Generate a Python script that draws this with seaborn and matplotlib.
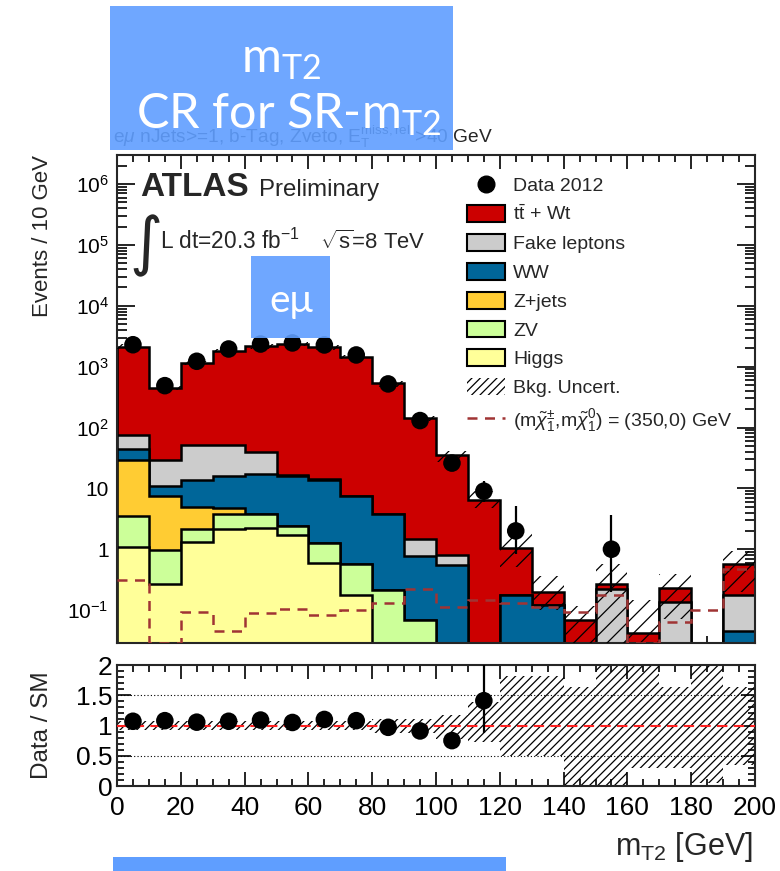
import numpy as np
import pandas as pd
import matplotlib
matplotlib.use("Agg")
import matplotlib.pyplot as plt
from matplotlib.patches import Rectangle, Patch
from matplotlib.lines import Line2D
from matplotlib.ticker import FixedLocator, FixedFormatter, MultipleLocator, LogLocator, NullFormatter
import seaborn as sns

# ---------------------------------------------------------------- data
bin_edges = np.arange(0, 201, 10)
bin_centers = 0.5 * (bin_edges[:-1] + bin_edges[1:])

data_2012   = [2290, 487, 1225, 1950, 2350, 2450, 2270, 1555, 520, 130, 26, 9, 2, 0, 0, 1, 0, 0, 0, 0]
data_err_dn = [48, 22, 35, 44, 48, 49, 48, 39, 23, 11, 5.1, 3.0, 1.15, 0, 0, 0.8, 0, 0, 0, 0]
data_err_up = [48, 22, 35, 44, 48, 49, 48, 39, 23, 11, 5.1, 4.1, 3.2, 0, 0, 2.6, 0, 0, 0, 0]

higgs = [1.1, 0.27, 1.3, 2.18, 2.27, 1.7, 0.6, 0.176, 0, 0, 0, 0, 0, 0, 0, 0, 0, 0, 0, 0]
zv    = [2.4, 0.69, 0.88, 1.57, 1.48, 0.7, 0.67, 0.39, 0.21, 0.069, 0, 0, 0, 0, 0, 0, 0, 0, 0, 0]
zjets = [26, 6.4, 2.7, 1.05, 0, 0, 0, 0, 0, 0, 0, 0, 0, 0, 0, 0, 0, 0, 0, 0]
ww    = [15, 3.6, 9.0, 11.1, 13.65, 13.3, 12.6, 6.8, 3.54, 0.70, 0.55, 0, 0.18, 0.12, 0, 0, 0, 0, 0, 0.046]
fake  = [31, 18.5, 38, 34.8, 22, 0.8, 0.3, 0.2, 0, 0.73, 0.25, 0, 0, 0, 0, 0.226, 0, 0.137, 0, 0.134]
ttbar = [2065, 421, 1108, 1769, 2110, 2314, 2050, 1432, 532, 141.5, 34, 6.4, 0.85, 0.08, 0.070, 0.044, 0.0425, 0.098, 0, 0.39]

signal_350_0 = [0.31, 0.029, 0.094, 0.046, 0.088, 0.103, 0.083, 0.10, 0.129, 0.22,
                0.113, 0.148, 0.13, 0.112, 0.094, 0.18, 0.029, 0.064, 0.10, 0.48]

# relative background uncertainty per bin
unc_up = [0.08] * 8 + [0.10, 0.10, 0.18, 0.39, 0.81, 0.81, 0.64, 1.10, 2.5, 0.64, 1.2, 0.64]
unc_dn = [0.08] * 8 + [0.12, 0.12, 0.22, 0.27, 0.50, 0.50, 1.00, 1.00, 0.70, 0.70, 0.95, 0.65]

# Data / SM
ratio        = [1.07, 1.08, 1.055, 1.07, 1.09, 1.05, 1.10, 1.08, 0.97, 0.91, 0.75, 1.41,
                np.nan, np.nan, np.nan, np.nan, np.nan, np.nan, np.nan, np.nan]
ratio_err_dn = [0.02, 0.04, 0.03, 0.025, 0.022, 0.021, 0.023, 0.027, 0.045, 0.08, 0.14, 0.54,
                0, 0, 0, 0, 0, 0, 0, 0]
ratio_err_up = [0.02, 0.04, 0.03, 0.025, 0.022, 0.021, 0.023, 0.027, 0.045, 0.08, 0.14, 0.65,
                0, 0, 0, 0, 0, 0, 0, 0]

stack_names  = ["Higgs", "ZV", "Z+jets", "WW", "Fake leptons", r"t$\bar{\mathrm{t}}$ + Wt"]
stack_values = [higgs, zv, zjets, ww, fake, ttbar]
stack_colors = ["#FFFF99", "#CCFF99", "#FFCC33", "#006699", "#CCCCCC", "#CC0000"]

y_tick_values = [1e-1, 1, 10, 1e2, 1e3, 1e4, 1e5, 1e6]
y_tick_labels = [r"$10^{-1}$", "1", "10", r"$10^{2}$", r"$10^{3}$", r"$10^{4}$", r"$10^{5}$", r"$10^{6}$"]
r_tick_values = [0, 0.5, 1, 1.5, 2]
r_tick_labels = ["0", "0.5", "1", "1.5", "2"]

# ---------------------------------------------------------------- style
sns.set_theme(style="ticks")
plt.rcParams["font.family"] = ["Liberation Sans", "DejaVu Sans"]
plt.rcParams["mathtext.fontset"] = "custom"
plt.rcParams["mathtext.rm"] = "Liberation Sans"
plt.rcParams["mathtext.it"] = "Liberation Sans:italic"
plt.rcParams["mathtext.bf"] = "Liberation Sans:bold"
plt.rcParams["hatch.linewidth"] = 0.9
plt.rcParams["axes.linewidth"] = 1.5

W, H = 780, 871
fig = plt.figure(figsize=(W / 100, H / 100), dpi=100)


def px(x, y):
    return x / W, 1 - y / H


ax = fig.add_axes([117 / W, 1 - 643 / H, 638 / W, 488 / H])
rax = fig.add_axes([117 / W, 1 - 786 / H, 638 / W, 121 / H])

floor = 1e-4
cum = np.cumsum(np.array(stack_values, dtype=float), axis=0)
total = cum[-1]

# stacked backgrounds, drawn from the top of the stack downwards
for top, col in reversed(list(zip(cum, stack_colors))):
    ax.stairs(np.maximum(top, floor), bin_edges, baseline=floor, fill=True,
              facecolor=col, edgecolor="black", linewidth=1.8, zorder=2)

# background uncertainty band
band_hi = np.maximum(total * (1 + np.array(unc_up)), floor)
band_lo = np.maximum(total * (1 - np.array(unc_dn)), floor)
ax.stairs(band_hi, bin_edges, baseline=band_lo, fill=True, facecolor="none",
          edgecolor="black", linewidth=0, hatch="//", zorder=3)

# signal benchmark
ax.stairs(signal_350_0, bin_edges, baseline=None, fill=False, color="#A03434",
          linestyle=(0, (4, 3)), linewidth=1.8, zorder=4)

# data points
d = np.array(data_2012, float)
mask = d > 0
df = pd.DataFrame({"mt2": bin_centers[mask], "events": d[mask]})
ax.errorbar(df["mt2"], df["events"],
            yerr=[np.array(data_err_dn)[mask], np.array(data_err_up)[mask]],
            fmt="none", ecolor="black", elinewidth=1.6, capsize=0, zorder=5)
sns.scatterplot(data=df, x="mt2", y="events", ax=ax, color="black", s=160,
                edgecolor="none", zorder=6, legend=False)

ax.set_yscale("log")
ax.set_xlim(0, 200)
ax.set_ylim(0.0288, 3.0e6)
ax.yaxis.set_major_locator(FixedLocator(y_tick_values))
ax.yaxis.set_major_formatter(FixedFormatter(y_tick_labels))
ax.yaxis.set_minor_locator(LogLocator(base=10, subs=np.arange(2, 10)))
ax.yaxis.set_minor_formatter(NullFormatter())
ax.xaxis.set_major_locator(MultipleLocator(20))
ax.xaxis.set_minor_locator(MultipleLocator(5))
ax.tick_params(axis="both", which="both", direction="in", top=True, right=True,
               labelbottom=False, width=1.2, colors="black")
ax.tick_params(axis="y", which="major", length=13, labelsize=15, pad=6)
ax.tick_params(axis="y", which="minor", length=7)
ax.tick_params(axis="x", which="major", length=10)
ax.tick_params(axis="x", which="minor", length=5)
ax.set_xlabel("")
ax.set_ylabel("Events / 10 GeV", fontsize=16, loc="top")
ax.yaxis.set_label_coords(-0.1, 1.0)

# legend
handles = [Line2D([], [], marker="o", color="black", linestyle="none", markersize=12)]
labels = ["Data 2012"]
for name, col in reversed(list(zip(stack_names, stack_colors))):
    handles.append(Patch(facecolor=col, edgecolor="black", linewidth=1.5))
    labels.append(name)
handles.append(Patch(facecolor="none", edgecolor="black", linewidth=0, hatch="////"))
labels.append("Bkg. Uncert.")
handles.append(Line2D([], [], color="#A03434", linestyle=(0, (4, 3)), linewidth=1.8))
labels.append(r"(m$\tilde{\chi}^{\pm}_{1}$,m$\tilde{\chi}^{0}_{1}$) = (350,0) GeV")
ax.legend(handles, labels, loc="upper left", bbox_to_anchor=px(467, 176),
          bbox_transform=fig.transFigure, frameon=False, fontsize=14,
          handlelength=1.96, handleheight=0.95, handletextpad=0.4,
          labelspacing=0.5, borderpad=0, borderaxespad=0)

# labels inside the frame
fig.text(*px(140, 196), "ATLAS", fontsize=24, fontweight="bold", ha="left", va="baseline")
fig.text(*px(259, 196), "Preliminary", fontsize=17.3, ha="left", va="baseline")
fig.text(*px(129, 263), "\u222b", fontsize=46, ha="left", va="baseline", family="DejaVu Sans")
fig.text(*px(160, 249), r"L dt=20.3 fb$^{-1}$", fontsize=16.3, ha="left", va="baseline")
fig.text(*px(320, 249), r"$\sqrt{\mathrm{s}}$=8 TeV", fontsize=15.8, ha="left", va="baseline")
fig.text(*px(113, 143), r"e$\mu$ nJets>=1, b-Tag, Zveto, $\mathrm{E}_{\mathrm{T}}^{\mathrm{miss,rel}}$ >40 GeV",
         fontsize=13.8, ha="left", va="baseline")

# ---------------------------------------------------------------- ratio panel
rax.stairs(np.minimum(1 + np.array(unc_up), 2.5), bin_edges,
           baseline=np.maximum(1 - np.array(unc_dn), -0.5), fill=True, facecolor="none",
           edgecolor="black", linewidth=0, hatch="////", zorder=2)
for yv in (0.5, 1.5):
    rax.axhline(yv, color="black", linestyle=(0, (1, 2)), linewidth=0.8, zorder=1)
rax.axhline(1.0, color="#FF2020", linestyle=(0, (5, 3)), linewidth=1.5, zorder=3)

r = np.array(ratio, float)
rmask = ~np.isnan(r)
rdf = pd.DataFrame({"mt2": bin_centers[rmask], "ratio": r[rmask]})
rax.errorbar(rdf["mt2"], rdf["ratio"],
             yerr=[np.array(ratio_err_dn)[rmask], np.array(ratio_err_up)[rmask]],
             fmt="none", ecolor="black", elinewidth=1.6, capsize=0, zorder=5)
sns.scatterplot(data=rdf, x="mt2", y="ratio", ax=rax, color="black", s=160,
                edgecolor="none", zorder=6, legend=False, clip_on=True)

rax.set_xlim(0, 200)
rax.set_ylim(0, 2)
rax.yaxis.set_major_locator(FixedLocator(r_tick_values))
rax.yaxis.set_major_formatter(FixedFormatter(r_tick_labels))
rax.yaxis.set_minor_locator(MultipleLocator(0.1))
rax.xaxis.set_major_locator(MultipleLocator(20))
rax.xaxis.set_minor_locator(MultipleLocator(5))
rax.tick_params(axis="both", which="both", direction="in", top=True, right=True,
                width=1.2, colors="black", labelsize=19)
rax.tick_params(axis="both", which="major", length=10)
rax.tick_params(axis="both", which="minor", length=5)
rax.tick_params(axis="x", which="major", pad=7)
rax.set_ylabel("Data / SM", fontsize=17.5)
rax.yaxis.set_label_coords(-0.1, 0.5)
rax.set_xlabel(r"m$_{\mathrm{T2}}$ [GeV]", fontsize=22, loc="right")
rax.xaxis.set_label_coords(0.997, -0.36)

# ---------------------------------------------------------------- slide overlays
BOX = "#5F9EFF"
fig.add_artist(Rectangle(px(110, 150), 343 / W, 144 / H, transform=fig.transFigure,
                         facecolor=BOX, edgecolor="none", alpha=0.9, zorder=10))
fig.text(*px(281, 72), r"$\mathregular{m_{T2}}$", fontsize=35, color="white",
         ha="center", va="baseline", family=["Lato", "DejaVu Sans"], zorder=11)
fig.text(*px(289, 128), r"CR for SR-$\mathregular{m_{T2}}$", fontsize=35, color="white",
         ha="center", va="baseline", family=["Lato", "DejaVu Sans"], zorder=11)

fig.add_artist(Rectangle(px(251, 338), 79 / W, 82 / H, transform=fig.transFigure,
                         facecolor=BOX, edgecolor="none", alpha=0.9, zorder=10))
fig.text(*px(291, 312), "e\u03bc", fontsize=28, color="white", ha="center",
         va="baseline", family=["Lato", "DejaVu Sans"], zorder=11)

fig.add_artist(Rectangle(px(113, 871), 393 / W, 14 / H, transform=fig.transFigure,
                         facecolor=BOX, edgecolor="none", zorder=10))

fig.savefig("out.png", dpi=100)
